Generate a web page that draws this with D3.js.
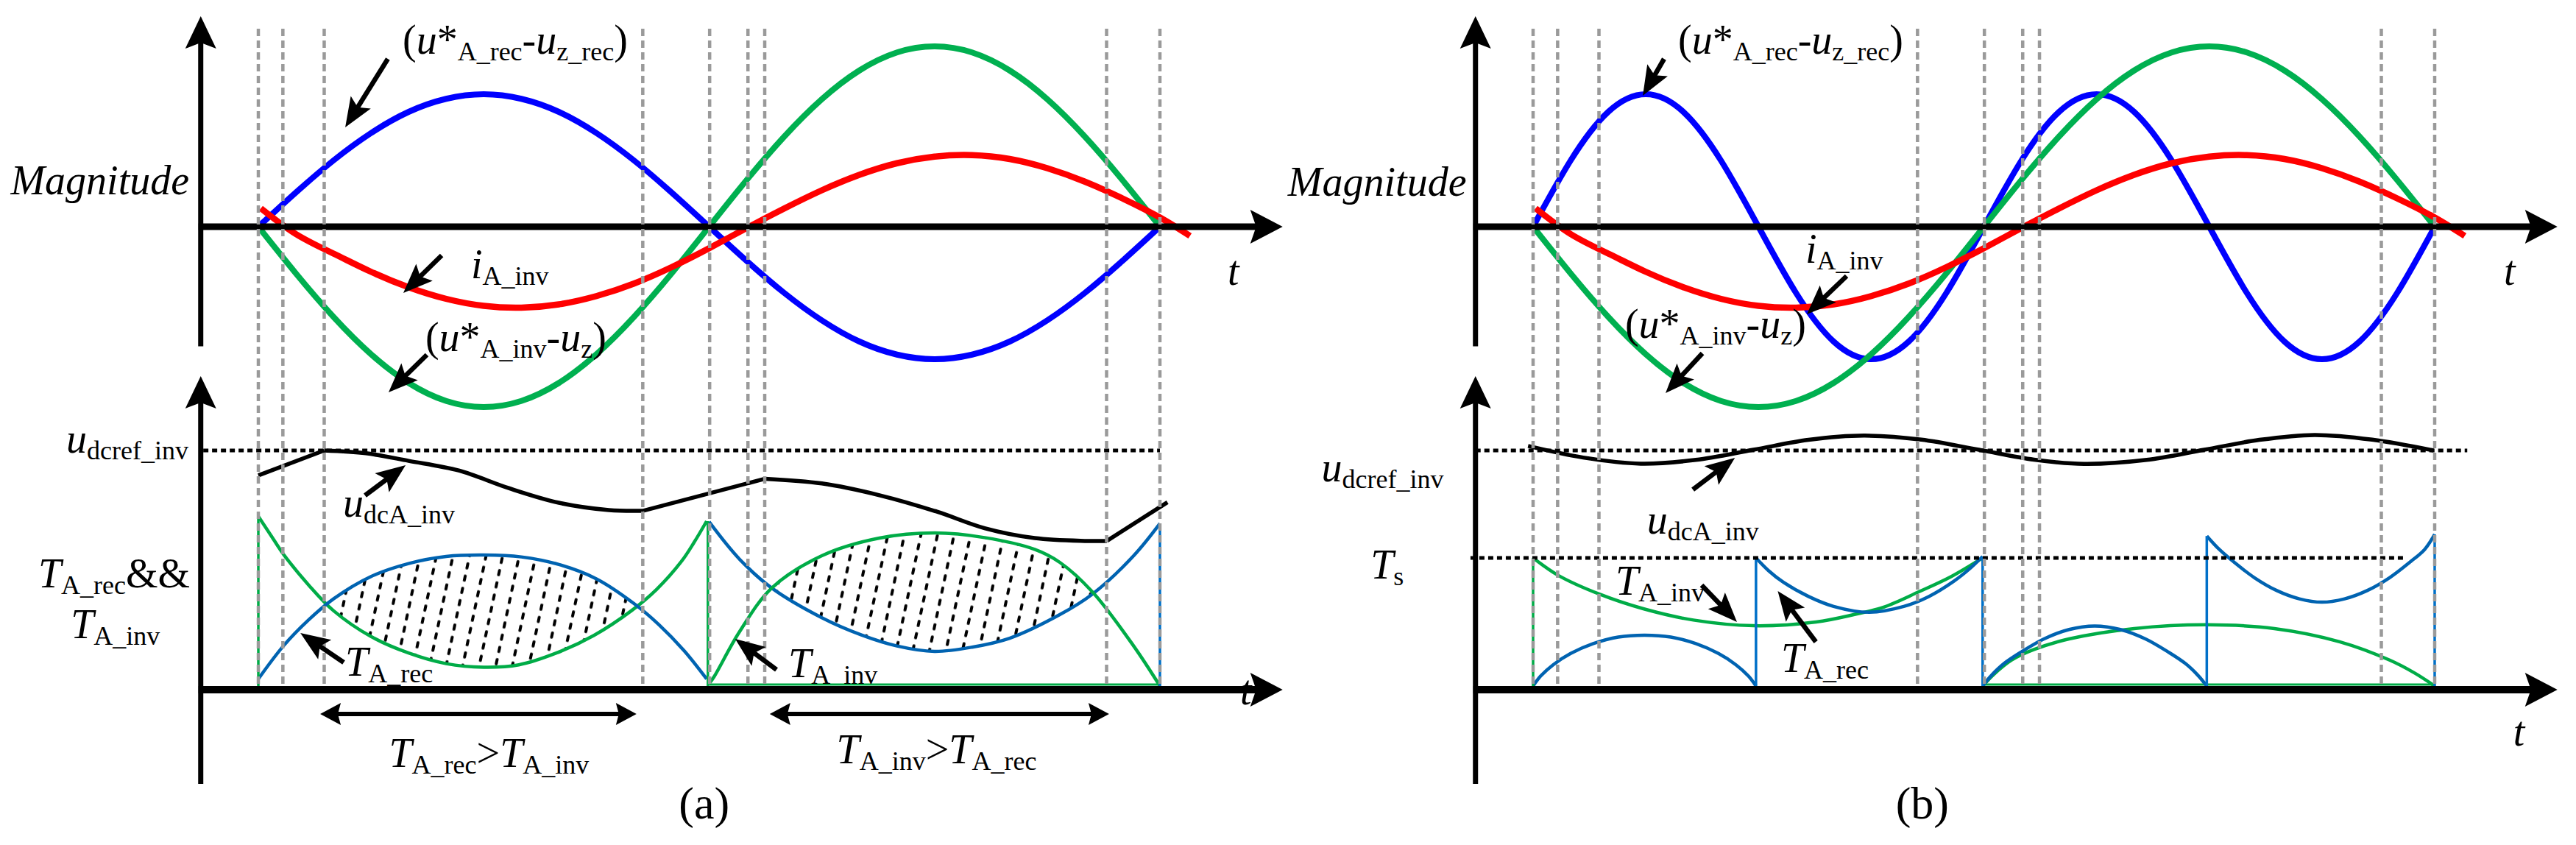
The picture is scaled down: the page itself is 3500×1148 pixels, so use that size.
<!DOCTYPE html>
<html>
<head>
<meta charset="utf-8">
<script src="https://cdn.jsdelivr.net/npm/d3@7"></script>
<style>
html, body { margin: 0; padding: 0; background: #fff; }
svg text { font-family: "Liberation Serif", "Times New Roman", serif; fill: #000; }
</style>
</head>
<body>
<svg id="chart" width="3500" height="1148"></svg>
<script>
// electrical angle (deg) samples for the top panels
const THETA = [0, 15, 30, 45, 60, 75, 90, 105, 120, 135, 150, 165, 180,
               195, 210, 225, 240, 255, 270, 285, 300, 315, 330, 345, 360];
const blueTopA = [0, 18.6, 36, 50.9, 62.4, 69.5, 72, 69.5, 62.4, 50.9, 36, 18.6, 0,
                  -18.6, -36, -50.9, -62.4, -69.5, -72, -69.5, -62.4, -50.9, -36, -18.6, 0];
const blueTopB = [0, 36, 62.4, 72, 62.4, 36, 0, -36, -62.4, -72, -62.4, -36, 0,
                  36, 62.4, 72, 62.4, 36, 0, -36, -62.4, -72, -62.4, -36, 0];
const greenTop = [0, -25.4, -49, -69.3, -84.9, -94.7, -98, -94.7, -84.9, -69.3, -49, -25.4, 0,
                  25.4, 49, 69.3, 84.9, 94.7, 98, 94.7, 84.9, 69.3, 49, 25.4, 0];
const redTheta = [1, 15, 30, 45, 60, 75, 90, 105, 120, 135, 150, 165, 180,
                  195, 210, 225, 240, 255, 270, 285, 300, 315, 330, 345, 360, 372];
const redTop = [10, -4, -14.6, -24.5, -32.9, -39.2, -43, -44, -42.2, -37.7, -30.9, -22, -11.7,
                -0.7, 9.9, 19.8, 28.2, 34.5, 38.1, 38.9, 36.8, 31.8, 24.5, 15.4, 5, -5];

// gray switching instants
const dashTheta = [0, 9.8, 26.3, 153.5, 180.2, 195.5, 202.2, 338.7, 360];

// bottom panels, [theta, value]
const udcRef = 100;
const Ts = 54.4;
const udcA_a = [
    [[0, 89.4], [26.3, 100]],
    [[26.3, 100], [43, 98.8], [60, 95.6], [80, 91.5], [100, 84], [120, 77.8], [140, 74.7], [153.7, 74.4]],
    [[153.7, 74.4], [202.3, 88]],
    [[202.3, 88], [225, 86], [248, 81], [271, 74], [290, 67], [310, 62.8], [330, 61.6], [338.8, 61.6]],
    [[338.8, 61.6], [363, 78]]
];
const greenA1 = [[0, 72], [5, 64], [10, 56], [20, 43], [30, 32], [45, 21], [60, 14], [75, 9.5], [90, 8],
                 [104, 9], [119, 14], [134, 21.5], [149, 32], [159, 41], [169, 53], [174, 61], [179, 70]];
const blueA1 = [[0, 3], [10, 17], [20, 28], [30, 37], [45, 46.5], [60, 52], [75, 55], [90, 55.6],
                [105, 54.8], [120, 51.6], [135, 45.5], [150, 35], [160, 26], [170, 15], [179, 3]];
const blueA2 = [[180, 69.7], [192, 54], [205, 41.6], [225, 29], [241, 21.6], [255, 17], [270, 14.7],
                [285, 16.5], [300, 20.3], [320, 30.3], [333, 39], [349.5, 55.3], [360, 69]];
const greenA2 = [[180, 1], [182, 4], [192, 22.8], [205, 41.6], [225, 55.3], [248, 62.8], [270, 65],
                 [290, 63], [310, 58], [320, 52.5], [333, 40], [349.5, 17], [360, 0]];
const vertA = [[0, 0, 72, 'g'], [179.5, 70, 0, 'g'], [360, 69, 0, 'b']];

const udcA_b = [[-2, 101.9], [20, 97], [43, 94.4], [65, 96], [88, 100.3], [110, 104.5], [132, 106.3],
                [155, 104.6], [178, 100.3], [200, 96.1], [220, 94.3], [245, 96], [268, 100.3],
                [290, 104.5], [312, 106.6], [335, 104.6], [359.5, 100]];
const greenB1 = [[0, 54.4], [10, 47], [26.5, 39], [44, 32.8], [64, 28], [88, 25.6], [113, 27.2],
                 [128, 30.3], [140, 33.5], [154, 40], [167, 46.5], [179.5, 54.4]];
const greenB2 = [[179.5, 0], [184, 5], [191, 11], [200, 15.5], [214, 20], [240, 24.4], [269, 26],
                 [296, 24.4], [322, 18.8], [342, 11], [352, 5.5], [360, 0]];
const blueB1 = [[0, 0], [3, 4.2], [8, 9], [15, 13.8], [24, 18], [34, 20.8], [44.5, 21.6], [55, 20.8],
                [65, 18], [74, 13.8], [81, 9], [86, 4.2], [89, 0]];
const blueB2 = [[89, 54.4], [94, 49], [100, 44], [110, 38], [120, 33.8], [134, 31.3], [148, 33.8],
                [158, 38], [168, 44.5], [174, 49.5], [179.5, 55]];
const blueB3 = [[179.5, 0], [183, 4.5], [188, 9.5], [195, 14.5], [204, 20], [214, 24], [224.25, 25.5],
                [234.5, 24], [244.5, 20], [253.5, 14.5], [260.5, 9.5], [265.5, 4.5], [269, 0]];
const blueB4 = [[269, 63.7], [274, 58], [280, 52.5], [288, 46], [297, 40.5], [306, 37], [315, 35.6],
                [324, 37], [333, 40.5], [342, 46], [350, 52.5], [356, 58], [360, 64.4]];
const vertB = [[0, 0, 54.4, 'g'], [89, 0, 54.4, 'b'], [179.5, 55, 0, 'b'], [269, 0, 63.7, 'b'], [360, 64.4, 0, 'b']];

// label texts: [text, kind] with i = italic, r = roman, s = subscript
const TXT_UREC = [['(', 'r'], ['u', 'i'], ['*', 'r'], ['A_rec', 's'], ['-', 'r'], ['u', 'i'], ['z_rec', 's'], [')', 'r']];
const TXT_UINV = [['(', 'r'], ['u', 'i'], ['*', 'r'], ['A_inv', 's'], ['-', 'r'], ['u', 'i'], ['z', 's'], [')', 'r']];
const TXT_IINV = [['i', 'i'], ['A_inv', 's']];
const TXT_UDCREF = [['u', 'i'], ['dcref_inv', 's']];
const TXT_UDCA = [['u', 'i'], ['dcA_inv', 's']];
const TXT_TREC = [['T', 'i'], ['A_rec', 's']];
const TXT_TINV = [['T', 'i'], ['A_inv', 's']];
const TXT_TRECAND = [['T', 'i'], ['A_rec', 's'], ['&&', 'r']];
const TXT_TS = [['T', 'i'], ['s', 's']];
const TXT_RECGT = [['T', 'i'], ['A_rec', 's'], ['>', 'r'], ['T', 'i'], ['A_inv', 's']];
const TXT_INVGT = [['T', 'i'], ['A_inv', 's'], ['>', 'r'], ['T', 'i'], ['A_rec', 's']];

const MAIN = 56, SUB = 36, SUB_DY = 9;
const C_BLUE = '#0000FF', C_RED = '#FF0000', C_GREEN = '#00B050', C_TBLUE = '#0063B1', C_TGREEN = '#00AC47';
const SMOOTH = d3.curveCatmullRom.alpha(0.5);

const svg = d3.select('#chart');
const defs = svg.append('defs');

const pat = defs.append('pattern')
    .attr('id', 'hatch')
    .attr('patternUnits', 'userSpaceOnUse')
    .attr('width', 22)
    .attr('height', 17)
    .attr('patternTransform', 'rotate(12)');
pat.append('line')
    .attr('x1', 11).attr('x2', 11).attr('y1', 5).attr('y2', 11)
    .attr('stroke', '#000').attr('stroke-width', 4).attr('stroke-linecap', 'round');

const xA = d3.scaleLinear().domain([0, 360]).range([351, 1576]);
const xB = d3.scaleLinear().domain([0, 360]).range([2083, 3308]);
const yT = d3.scaleLinear().domain([-100, 100]).range([558, 58]);
const yB = d3.scaleLinear().domain([0, 100]).range([932, 612]);

function lineGen(x, y, curve) {
    return d3.line().x(function(d) { return x(d[0]); }).y(function(d) { return y(d[1]); }).curve(curve);
}

function stroke(g, d, color, w) {
    return g.append('path').attr('d', d).attr('fill', 'none')
        .attr('stroke', color).attr('stroke-width', w)
        .attr('stroke-linejoin', 'round');
}

function head(g, tip, from, len, hw, notch) {
    const a = Math.atan2(tip[1] - from[1], tip[0] - from[0]) * 180 / Math.PI;
    g.append('path')
        .attr('d', 'M0,0L' + (-len) + ',' + (-hw) + 'L' + (-len + notch) + ',0L' + (-len) + ',' + hw + 'Z')
        .attr('transform', 'translate(' + tip[0] + ',' + tip[1] + ') rotate(' + a + ')')
        .attr('fill', '#000');
}

function arrow(g, p0, p1) {
    const len = 40, hw = 16, notch = 8;
    const dx = p1[0] - p0[0], dy = p1[1] - p0[1];
    const L = Math.hypot(dx, dy);
    const back = len - notch - 2;
    g.append('line')
        .attr('x1', p0[0]).attr('y1', p0[1])
        .attr('x2', p1[0] - dx / L * back).attr('y2', p1[1] - dy / L * back)
        .attr('stroke', '#000').attr('stroke-width', 6.5);
    head(g, p1, p0, len, hw, notch);
}

function dblArrow(g, p0, p1) {
    const dx = p1[0] - p0[0], dy = p1[1] - p0[1];
    const L = Math.hypot(dx, dy), back = 20;
    g.append('line')
        .attr('x1', p0[0] + dx / L * back).attr('y1', p0[1] + dy / L * back)
        .attr('x2', p1[0] - dx / L * back).attr('y2', p1[1] - dy / L * back)
        .attr('stroke', '#000').attr('stroke-width', 6);
    head(g, p1, p0, 28, 15, 4);
    head(g, p0, p1, 28, 15, 4);
}

function rich(g, x, y, parts, anchor) {
    const t = g.append('text')
        .attr('x', x).attr('y', y)
        .attr('text-anchor', anchor || 'start');
    let cur = 0;
    parts.forEach(function(p) {
        const target = p[1] === 's' ? SUB_DY : 0;
        t.append('tspan')
            .attr('dy', target - cur)
            .attr('font-size', p[1] === 's' ? SUB : MAIN)
            .attr('font-style', p[1] === 'i' ? 'italic' : 'normal')
            .text(p[0]);
        cur = target;
    });
    return t;
}

function plain(g, x, y, s, size, italic, anchor) {
    return g.append('text')
        .attr('x', x).attr('y', y)
        .attr('font-size', size)
        .attr('font-style', italic ? 'italic' : 'normal')
        .attr('text-anchor', anchor || 'start')
        .text(s);
}

function axes(g, x) {
    const x0 = x(-23), x1 = x(409);
    // top panel
    g.append('line').attr('x1', x0).attr('x2', x0).attr('y1', yT(114.4) + 30).attr('y2', yT(-65))
        .attr('stroke', '#000').attr('stroke-width', 7);
    head(g, [x0, yT(114.4)], [x0, yT(0)], 44, 21, 8);
    g.append('line').attr('x1', x0 - 3).attr('x2', x1 - 30).attr('y1', yT(0)).attr('y2', yT(0))
        .attr('stroke', '#000').attr('stroke-width', 9);
    head(g, [x1, yT(0)], [x0, yT(0)], 44, 23, 8);
    // bottom panel
    const yb = yB(-1.6);
    g.append('line').attr('x1', x0).attr('x2', x0).attr('y1', yB(131.6) + 30).attr('y2', yB(-41.6))
        .attr('stroke', '#000').attr('stroke-width', 7);
    head(g, [x0, yB(131.6)], [x0, yB(0)], 44, 21, 8);
    g.append('line').attr('x1', x0 - 3).attr('x2', x1 - 30).attr('y1', yb).attr('y2', yb)
        .attr('stroke', '#000').attr('stroke-width', 10);
    head(g, [x1, yb], [x0, yb], 44, 23, 8);
}

function dashes(g, x) {
    g.selectAll('line.sw')
        .data(dashTheta)
        .join('line')
        .classed('sw', true)
        .attr('x1', function(d) { return x(d); })
        .attr('x2', function(d) { return x(d); })
        .attr('y1', yT(107.6))
        .attr('y2', yB(0))
        .attr('stroke', '#9A9A9A')
        .attr('stroke-width', 4.5)
        .attr('stroke-dasharray', '10 6');
}

function dotted(g, x, t0, t1, v) {
    g.append('line')
        .attr('x1', x(t0)).attr('x2', x(t1))
        .attr('y1', yB(v)).attr('y2', yB(v))
        .attr('stroke', '#000').attr('stroke-width', 5)
        .attr('stroke-dasharray', '7 5');
}

function topCurves(g, x, blue) {
    const ln = lineGen(x, yT, d3.curveNatural);
    stroke(g, ln(THETA.map(function(t, i) { return [t, blue[i]]; })), C_BLUE, 8);
    stroke(g, ln(THETA.map(function(t, i) { return [t, greenTop[i]]; })), C_GREEN, 8);
    stroke(g, ln(redTheta.map(function(t, i) { return [t, redTop[i]]; })), C_RED, 8.5);
}

function verticals(g, x, list) {
    list.forEach(function(v) {
        g.append('line')
            .attr('x1', x(v[0])).attr('x2', x(v[0]))
            .attr('y1', yB(v[1])).attr('y2', yB(v[2]))
            .attr('stroke', v[3] === 'g' ? C_TGREEN : '#0070C8')
            .attr('stroke-width', 3.5);
    });
}

function hatch(g, id, clipPts, fillPts) {
    const under = d3.area().x(function(d) { return xA(d[0]); })
        .y0(yB(0)).y1(function(d) { return yB(d[1]); }).curve(SMOOTH);
    const over = d3.area().x(function(d) { return xA(d[0]); })
        .y0(yB(130)).y1(function(d) { return yB(d[1]); }).curve(SMOOTH);
    defs.append('clipPath').attr('id', id).append('path').attr('d', under(clipPts));
    g.append('path').attr('d', over(fillPts))
        .attr('fill', 'url(#hatch)')
        .attr('clip-path', 'url(#' + id + ')');
}

// ---------- panel (a) ----------
const ga = svg.append('g');
hatch(ga, 'clipA1', blueA1, greenA1);
hatch(ga, 'clipA2', greenA2, blueA2);

const smA = lineGen(xA, yB, SMOOTH);
ga.append('line')
    .attr('x1', xA(180)).attr('x2', xA(360)).attr('y1', yB(0.6)).attr('y2', yB(0.6))
    .attr('stroke', C_TGREEN).attr('stroke-width', 3);
stroke(ga, smA(greenA1), C_TGREEN, 4.5);
stroke(ga, smA(blueA1), C_TBLUE, 4.5);
stroke(ga, smA(blueA2), C_TBLUE, 4.5);
stroke(ga, smA(greenA2), C_TGREEN, 4.5);
verticals(ga, xA, vertA);

dotted(ga, xA, -22, 360, udcRef);
udcA_a.forEach(function(seg) { stroke(ga, smA(seg), '#000', 5.5); });

topCurves(ga, xA, blueTopA);

plain(ga, xA(392), yB(-7.8), 't', MAIN, true);
axes(ga, xA);
dashes(ga, xA);

plain(ga, xA(-98.9), yT(17.6), 'Magnitude', MAIN, true);
rich(ga, xA(57.6), yT(94), TXT_UREC);
rich(ga, xA(84.9), yT(-28), TXT_IINV);
rich(ga, xA(66.7), yT(-67.6), TXT_UINV);
plain(ga, xA(387), yT(-31.6), 't', MAIN, true);
arrow(ga, [xA(51.7), yT(91.2)], [xA(34.7), yT(54)]);
arrow(ga, [xA(73.2), yT(-15.6)], [xA(57.9), yT(-36)]);
arrow(ga, [xA(67.3), yT(-69.6)], [xA(52), yT(-90)]);

rich(ga, xA(-76.7), yB(99), TXT_UDCREF);
rich(ga, xA(33.8), yB(71.9), TXT_UDCA);
rich(ga, xA(-87.9), yB(41.9), TXT_TRECAND);
rich(ga, xA(-74.9), yB(20.3), TXT_TINV);
rich(ga, xA(34.7), yB(4.4), TXT_TREC);
rich(ga, xA(211.6), yB(3.75), TXT_TINV);
arrow(ga, [xA(42.6), yB(80.9)], [xA(58.8), yB(93.75)]);
arrow(ga, [xA(34.1), yB(10)], [xA(16.8), yB(22.5)]);
arrow(ga, [xA(206.9), yB(6.9)], [xA(190.4), yB(20)]);
dblArrow(ga, [xA(24.7), yB(-11.9)], [xA(151), yB(-11.9)]);
dblArrow(ga, [xA(204.2), yB(-11.9)], [xA(339.7), yB(-11.9)]);
rich(ga, xA(92.1), yB(-34.4), TXT_RECGT, 'middle');
rich(ga, xA(270.8), yB(-32.8), TXT_INVGT, 'middle');
plain(ga, xA(178), yB(-56.25), '(a)', 62, false, 'middle');

// ---------- panel (b) ----------
const gb = svg.append('g');
const smB = lineGen(xB, yB, SMOOTH);
gb.append('line')
    .attr('x1', xB(179.5)).attr('x2', xB(360)).attr('y1', yB(0.6)).attr('y2', yB(0.6))
    .attr('stroke', C_TGREEN).attr('stroke-width', 3);
stroke(gb, smB(greenB1), C_TGREEN, 4.5);
stroke(gb, smB(greenB2), C_TGREEN, 4.5);
[blueB1, blueB2, blueB3, blueB4].forEach(function(s) { stroke(gb, smB(s), C_TBLUE, 4.5); });
verticals(gb, xB, vertB);

dotted(gb, xB, -23, 373, udcRef);
dotted(gb, xB, -25, 348.2, Ts);
stroke(gb, smB(udcA_b), '#000', 5.5);

topCurves(gb, xB, blueTopB);

plain(gb, xB(391.4), yB(-25.3), 't', MAIN, true);
axes(gb, xB);
dashes(gb, xB);

plain(gb, xB(-97.9), yT(16.8), 'Magnitude', MAIN, true);
rich(gb, xB(57.9), yT(94), TXT_UREC);
rich(gb, xB(108.7), yT(-19.6), TXT_IINV);
rich(gb, xB(36.7), yT(-60.4), TXT_UINV);
plain(gb, xB(387.6), yT(-31.6), 't', MAIN, true);
arrow(gb, [xB(52.3), yT(91.2)], [xB(43.8), yT(71.2)]);
arrow(gb, [xB(125.2), yT(-26.8)], [xB(109.3), yT(-47.6)]);
arrow(gb, [xB(67.6), yT(-68.8)], [xB(52.9), yT(-90.4)]);

rich(gb, xB(-84.5), yB(86.9), TXT_UDCREF);
rich(gb, xB(45.5), yB(64.7), TXT_UDCA);
rich(gb, xB(-64.9), yB(45.6), TXT_TS);
rich(gb, xB(32.9), yB(38.75), TXT_TINV);
rich(gb, xB(99), yB(5.9), TXT_TREC);
arrow(gb, [xB(63.8), yB(83.4)], [xB(80.6), yB(96.9)]);
arrow(gb, [xB(67.3), yB(42.8)], [xB(81.4), yB(27.2)]);
arrow(gb, [xB(112.9), yB(18.75)], [xB(97.7), yB(40.3)]);
plain(gb, xB(155.4), yB(-56.25), '(b)', 62, false, 'middle');
</script>
</body>
</html>
